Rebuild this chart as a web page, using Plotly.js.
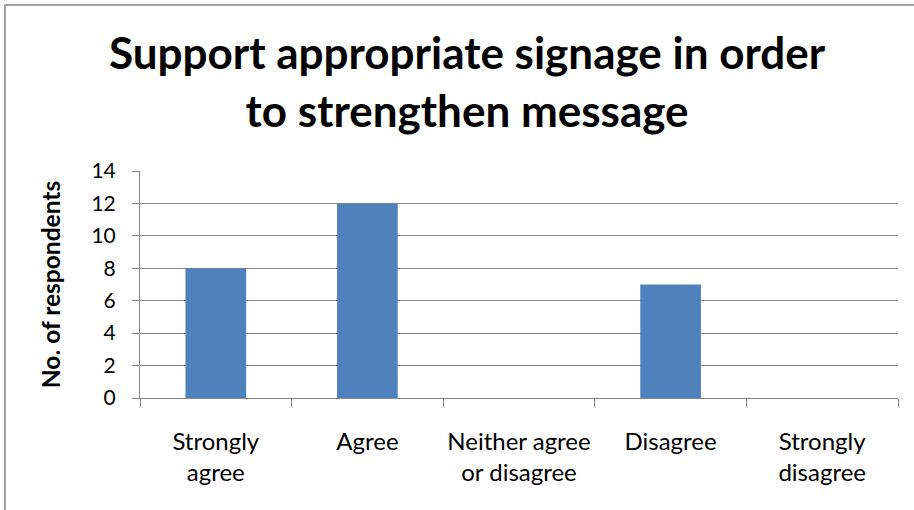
<!DOCTYPE html>
<html>
<head>
<meta charset="utf-8">
<script src="https://cdn.plot.ly/plotly-3.0.1.min.js"></script>
<style>
  html, body { margin: 0; padding: 0; background: #fff; }
  #chart { position: absolute; left: 0; top: 0; width: 914px; height: 510px; }
  #frame { position: absolute; left: 4px; top: 4px; width: 920px; height: 520px;
           border-left: 2px solid #a3a3a3; border-top: 2px solid #a3a3a3; pointer-events: none; }
</style>
</head>
<body>
<div id="chart"></div>
<div id="frame"></div>
<script>
const categories = ["Strongly<br>agree", "Agree", "Neither agree<br>or disagree", "Disagree", "Strongly<br>disagree"];
const respondents = [8, 12, 0, 7, 0];
const yTickValues = [0, 2, 4, 6, 8, 10, 12, 14];
const chartTitle = "Support appropriate signage in order<br>to strengthen message";
const yTitle = "No. of respondents";

const trace = {
  type: "bar",
  x: categories,
  y: respondents,
  marker: { color: "#4F81BD" },
  hoverinfo: "x+y"
};

const layout = {
  width: 914,
  height: 510,
  margin: { l: 139.5, r: 16.4, t: 170.7, b: 112.3 },
  paper_bgcolor: "#ffffff",
  plot_bgcolor: "#ffffff",
  font: { family: "Lato, 'Open Sans', sans-serif", color: "#000000", size: 21 },
  title: {
    text: chartTitle,
    font: { family: "Lato, 'Open Sans', sans-serif", size: 44, weight: "bold", color: "#000000" },
    x: 0.511,
    xanchor: "center",
    yref: "container",
    y: 0.864,
    yanchor: "middle"
  },
  bargap: 0.6,
  showlegend: false,
  xaxis: {
    type: "category",
    showgrid: false,
    showline: true,
    linecolor: "#868686",
    linewidth: 1,
    ticks: "outside",
    tickson: "boundaries",
    ticklen: 8,
    tickcolor: "#868686",
    tickwidth: 1,
    tickangle: 0,
    ticklabelstandoff: 22,
    tickfont: { size: 24, color: "#000000" },
    zeroline: false
  },
  yaxis: {
    range: [0, 14],
    tickvals: yTickValues,
    ticktext: yTickValues.map(String),
    showgrid: true,
    gridcolor: "#868686",
    gridwidth: 1,
    showline: true,
    linecolor: "#868686",
    linewidth: 1,
    ticks: "outside",
    ticklen: 7,
    tickcolor: "#868686",
    ticklabelstandoff: 12,
    tickfont: { size: 21, color: "#000000" },
    zeroline: false,
    title: {
      text: yTitle,
      font: { size: 24.5, weight: "bold", color: "#000000" },
      standoff: 23
    }
  }
};

Plotly.newPlot("chart", [trace], layout, { displayModeBar: false, staticPlot: true });
</script>
</body>
</html>
